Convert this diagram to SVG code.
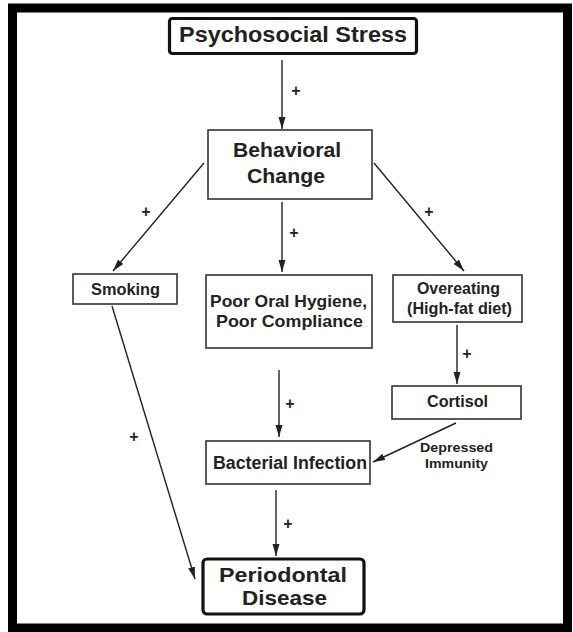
<svg xmlns="http://www.w3.org/2000/svg" width="573" height="632" viewBox="0 0 573 632">
<style>
.frame{fill:#fff;stroke:#000;stroke-width:9}
.box{fill:#fff;stroke:#333;stroke-width:1.6}
.bold{fill:#fff;stroke:#111;stroke-width:3.2}
.t{font-family:"Liberation Sans",Arial,sans-serif;font-weight:bold;fill:#222;text-anchor:middle}
.edge{stroke:#222;stroke-width:1.4;fill:none;marker-end:url(#ah)}
.plus{font-family:"Liberation Sans",Arial,sans-serif;font-weight:bold;fill:#222;text-anchor:middle;font-size:16px}
</style>
<defs>
<marker id="ah" markerUnits="userSpaceOnUse" markerWidth="13" markerHeight="8" refX="12" refY="3.5" orient="auto">
<path d="M0,0 L12,3.5 L0,7 z" fill="#222"/>
</marker>
</defs>
<rect class="frame" x="12.5" y="8" width="555" height="620"/>
<g id="connectors">
<line class="edge" x1="282" y1="60" x2="282" y2="129"/>
<line class="edge" x1="204" y1="163" x2="113" y2="271"/>
<line class="edge" x1="282" y1="202" x2="282" y2="272"/>
<line class="edge" x1="374" y1="163" x2="464" y2="271"/>
<line class="edge" x1="457" y1="325" x2="457" y2="384"/>
<line class="edge" x1="279" y1="370" x2="279" y2="437"/>
<line class="edge" x1="456" y1="423" x2="373" y2="462"/>
<line class="edge" x1="112" y1="306" x2="195" y2="579"/>
<line class="edge" x1="276" y1="490" x2="276" y2="556"/>
<text class="plus" x="296" y="96">+</text>
<text class="plus" x="146" y="217">+</text>
<text class="plus" x="294" y="238">+</text>
<text class="plus" x="429" y="217">+</text>
<text class="plus" x="467" y="359">+</text>
<text class="plus" x="290" y="409">+</text>
<text class="plus" x="134" y="442">+</text>
<text class="plus" x="288" y="529">+</text>
<text class="t" x="456.5" y="452" font-size="13" textLength="73" lengthAdjust="spacingAndGlyphs">Depressed</text>
<text class="t" x="456.5" y="468" font-size="13" textLength="63" lengthAdjust="spacingAndGlyphs">Immunity</text>
</g>
<g id="psychosocial-stress">
<rect class="bold" x="169.5" y="18.5" width="247" height="35" rx="3"/>
<text class="t" x="293" y="42" font-size="22" textLength="228" lengthAdjust="spacingAndGlyphs">Psychosocial Stress</text>
</g>
<g id="behavioral-change">
<rect class="box" x="208" y="130" width="164" height="69"/>
<text class="t" x="287" y="157" font-size="20" textLength="108" lengthAdjust="spacingAndGlyphs">Behavioral</text>
<text class="t" x="286" y="183" font-size="20" textLength="78" lengthAdjust="spacingAndGlyphs">Change</text>
</g>
<g id="smoking">
<rect class="box" x="73" y="274" width="104" height="30"/>
<text class="t" x="125.5" y="295" font-size="16" textLength="69" lengthAdjust="spacingAndGlyphs">Smoking</text>
</g>
<g id="poor-oral-hygiene">
<rect class="box" x="206" y="275" width="166" height="73"/>
<text class="t" x="288.5" y="307" font-size="17" textLength="157" lengthAdjust="spacingAndGlyphs">Poor Oral Hygiene,</text>
<text class="t" x="289.5" y="327" font-size="17" textLength="147" lengthAdjust="spacingAndGlyphs">Poor Compliance</text>
</g>
<g id="overeating">
<rect class="box" x="393" y="275" width="129" height="47"/>
<text class="t" x="458.5" y="294" font-size="16" textLength="83" lengthAdjust="spacingAndGlyphs">Overeating</text>
<text class="t" x="459.5" y="314" font-size="16" textLength="105" lengthAdjust="spacingAndGlyphs">(High-fat diet)</text>
</g>
<g id="cortisol">
<rect class="box" x="392" y="386" width="129" height="33"/>
<text class="t" x="457.5" y="407" font-size="16" textLength="61" lengthAdjust="spacingAndGlyphs">Cortisol</text>
</g>
<g id="bacterial-infection">
<rect class="box" x="206" y="441" width="164" height="43"/>
<text class="t" x="290" y="469" font-size="17.5" textLength="154" lengthAdjust="spacingAndGlyphs">Bacterial Infection</text>
</g>
<g id="periodontal-disease">
<rect class="bold" x="203" y="559" width="161" height="55" rx="4"/>
<text class="t" x="283" y="582" font-size="21" textLength="128" lengthAdjust="spacingAndGlyphs">Periodontal</text>
<text class="t" x="284.5" y="605" font-size="21" textLength="85" lengthAdjust="spacingAndGlyphs">Disease</text>
</g>
</svg>
